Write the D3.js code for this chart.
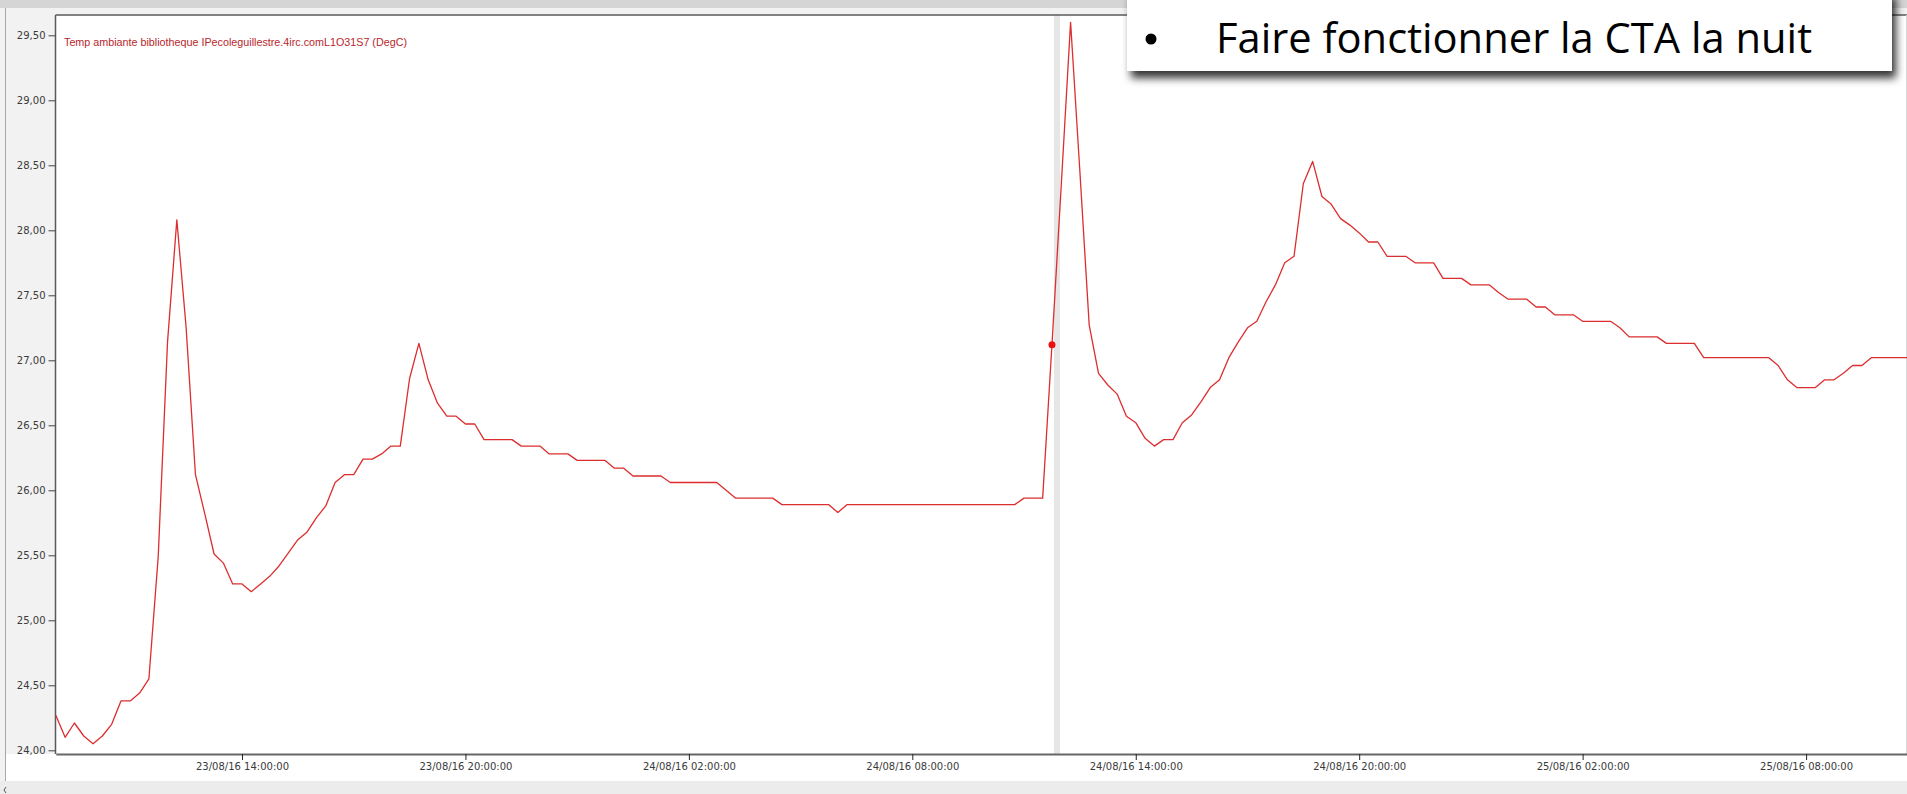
<!DOCTYPE html>
<html>
<head>
<meta charset="utf-8">
<script src="https://cdn.jsdelivr.net/npm/d3@7"></script>
<style>
  body { margin: 0; background: #fff; overflow: hidden; }
  svg { display: block; }
</style>
</head>
<body>
<svg id="chart" width="1907" height="794"></svg>
<script>
// logger samples, one every 15 minutes from 23/08/16 09:00
const startTime = new Date(2016, 7, 23, 9, 0, 0);
const stepMinutes = 15;
const tempValues = [
  24.27, 24.10, 24.21, 24.11, 24.05, 24.11, 24.20, 24.38, 24.38, 24.44,
  24.55, 25.49, 27.14, 28.08, 27.25, 26.12, 25.82, 25.51, 25.44, 25.28,
  25.28, 25.22, 25.28, 25.34, 25.42, 25.52, 25.62, 25.68, 25.79, 25.88,
  26.06, 26.12, 26.12, 26.24, 26.24, 26.28, 26.34, 26.34, 26.86, 27.13,
  26.85, 26.67, 26.57, 26.57, 26.51, 26.51, 26.39, 26.39, 26.39, 26.39,
  26.34, 26.34, 26.34, 26.28, 26.28, 26.28, 26.23, 26.23, 26.23, 26.23,
  26.17, 26.17, 26.11, 26.11, 26.11, 26.11, 26.06, 26.06, 26.06, 26.06,
  26.06, 26.06, 26.00, 25.94, 25.94, 25.94, 25.94, 25.94, 25.89, 25.89,
  25.89, 25.89, 25.89, 25.89, 25.83, 25.89, 25.89, 25.89, 25.89, 25.89,
  25.89, 25.89, 25.89, 25.89, 25.89, 25.89, 25.89, 25.89, 25.89, 25.89,
  25.89, 25.89, 25.89, 25.89, 25.94, 25.94, 25.94, 27.12, 28.35, 29.60,
  28.45, 27.27, 26.90, 26.81, 26.74, 26.57, 26.52, 26.40, 26.34, 26.39,
  26.39, 26.52, 26.58, 26.68, 26.79, 26.85, 27.02, 27.14, 27.25, 27.30,
  27.45, 27.58, 27.75, 27.80, 28.36, 28.53, 28.26, 28.20, 28.09, 28.04,
  27.98, 27.91, 27.91, 27.80, 27.80, 27.80, 27.75, 27.75, 27.75, 27.63,
  27.63, 27.63, 27.58, 27.58, 27.58, 27.52, 27.47, 27.47, 27.47, 27.41,
  27.41, 27.35, 27.35, 27.35, 27.30, 27.30, 27.30, 27.30, 27.25, 27.18,
  27.18, 27.18, 27.18, 27.13, 27.13, 27.13, 27.13, 27.02, 27.02, 27.02,
  27.02, 27.02, 27.02, 27.02, 27.02, 26.96, 26.85, 26.79, 26.79, 26.79,
  26.85, 26.85, 26.90, 26.96, 26.96, 27.02, 27.02, 27.02, 27.02, 27.02
];
const cursorIndex = 107; // highlighted sample (red dot + grey cursor band)

const yTickValues = [24.0, 24.5, 25.0, 25.5, 26.0, 26.5, 27.0, 27.5, 28.0, 28.5, 29.0, 29.5];
const xTickLabels = [
  "23/08/16 14:00:00", "23/08/16 20:00:00", "24/08/16 02:00:00", "24/08/16 08:00:00",
  "24/08/16 14:00:00", "24/08/16 20:00:00", "25/08/16 02:00:00", "25/08/16 08:00:00"
];
const seriesName = "Temp ambiante bibliotheque IPecoleguillestre.4irc.comL1O31S7 (DegC)";
const noteText = "Faire fonctionner la CTA la nuit";

const parseTick = d3.timeParse("%d/%m/%y %H:%M:%S");
const fmtTick = d3.timeFormat("%d/%m/%y %H:%M:%S");
const frLocale = d3.formatLocale({ decimal: ",", thousands: " ", grouping: [3], currency: ["", " €"] });
const fmtY = frLocale.format(".2f");

const data = tempValues.map((v, i) => ({ time: d3.timeMinute.offset(startTime, i * stepMinutes), value: v }));

const W = 1907, H = 794;
const plot = { left: 55.5, top: 15, right: 1907, bottom: 754 };

const svg = d3.select("#chart");

// shadow for the slide note box
const defs = svg.append("defs");
const shadow = defs.append("filter").attr("id", "shadow")
  .attr("x", "-5%").attr("y", "-40%").attr("width", "110%").attr("height", "200%");
shadow.append("feDropShadow")
  .attr("dx", 4).attr("dy", 7).attr("stdDeviation", 4)
  .attr("flood-color", "#000").attr("flood-opacity", 0.8);

// window chrome
svg.append("rect").attr("width", W).attr("height", H).attr("fill", "#f2f2f2");
svg.append("rect").attr("width", W).attr("height", 8).attr("fill", "#d5d5d5");
svg.append("line").attr("x1", 5.5).attr("x2", 5.5).attr("y1", 8).attr("y2", 781)
  .attr("stroke", "#a8a8a8").attr("stroke-width", 1);
svg.append("rect").attr("x", 6).attr("y", plot.bottom).attr("width", W - 6).attr("height", 27).attr("fill", "#fff");
svg.append("rect").attr("x", 0).attr("y", 781).attr("width", W).attr("height", H - 781).attr("fill", "#ececec");
svg.append("path").attr("d", "M6,787 L4,790 L6,793").attr("fill", "none").attr("stroke", "#555");

// plot background
svg.append("rect")
  .attr("x", plot.left).attr("y", plot.top)
  .attr("width", plot.right - plot.left).attr("height", plot.bottom - plot.top)
  .attr("fill", "#fff");

const x = d3.scaleTime()
  .domain([data[0].time, data[data.length - 1].time])
  .range([55.8, 55.8 + (data.length - 1) * 9.31]);

const y = d3.scaleLinear()
  .domain([24, 29.5])
  .range([750.3, 35.3]);

// cursor band
const cursor = data[cursorIndex];
svg.append("rect")
  .attr("x", x(cursor.time) + 2).attr("y", plot.top)
  .attr("width", 6).attr("height", plot.bottom - plot.top)
  .attr("fill", "#e6e6e6");

// borders
svg.append("line").attr("x1", plot.left).attr("x2", plot.right).attr("y1", plot.top).attr("y2", plot.top)
  .attr("stroke", "#5a5a5a").attr("stroke-width", 1.5);
svg.append("line").attr("x1", plot.left).attr("x2", plot.left).attr("y1", plot.top).attr("y2", plot.bottom)
  .attr("stroke", "#5a5a5a").attr("stroke-width", 1.5);
svg.append("line").attr("x1", 1906.5).attr("x2", 1906.5).attr("y1", plot.top).attr("y2", plot.bottom)
  .attr("stroke", "#d8d8d8").attr("stroke-width", 1);

// y axis
svg.append("g")
  .attr("transform", `translate(${plot.left},0)`)
  .call(d3.axisLeft(y).tickValues(yTickValues).tickFormat(fmtY).tickSize(7).tickPadding(3))
  .call(g => g.select(".domain").remove())
  .call(g => g.selectAll(".tick line").attr("stroke", "#444"))
  .call(g => g.selectAll(".tick text")
    .attr("fill", "#3a3a3a")
    .style("font-family", "'DejaVu Sans', Verdana, sans-serif")
    .style("font-size", "10px"));

// x axis
svg.append("g")
  .attr("transform", `translate(0,${plot.bottom})`)
  .call(d3.axisBottom(x).tickValues(xTickLabels.map(parseTick)).tickFormat(fmtTick).tickSize(6).tickSizeOuter(0).tickPadding(3))
  .call(g => g.select(".domain").attr("stroke", "#666").attr("stroke-width", 2))
  .call(g => g.selectAll(".tick line").attr("stroke", "#222"))
  .call(g => g.selectAll(".tick text")
    .attr("fill", "#3a3a3a")
    .style("font-family", "'DejaVu Sans', Verdana, sans-serif")
    .style("font-size", "10px"));

// temperature line
const line = d3.line()
  .x(d => x(d.time))
  .y(d => y(d.value));

svg.append("path")
  .datum(data)
  .attr("fill", "none")
  .attr("stroke", "#dc2e2e")
  .attr("stroke-width", 1.3)
  .attr("stroke-linejoin", "round")
  .attr("d", line);

svg.append("circle")
  .attr("cx", x(cursor.time)).attr("cy", y(cursor.value))
  .attr("r", 3.5).attr("fill", "#ee1111");

// series label
svg.append("text")
  .attr("x", 64).attr("y", 46)
  .attr("fill", "#b8262b")
  .attr("textLength", 343).attr("lengthAdjust", "spacingAndGlyphs")
  .style("font-family", "'Liberation Sans', Arial, sans-serif")
  .style("font-size", "10.5px")
  .text(seriesName);

// slide note box
const note = svg.append("g");
note.append("rect")
  .attr("x", 1127).attr("y", -10).attr("width", 765).attr("height", 81)
  .attr("fill", "#fff").attr("filter", "url(#shadow)");
note.append("circle").attr("cx", 1151).attr("cy", 39).attr("r", 5.5).attr("fill", "#000");
note.append("text")
  .attr("x", 1216).attr("y", 53)
  .attr("fill", "#000")
  .attr("textLength", 596).attr("lengthAdjust", "spacingAndGlyphs")
  .style("font-family", "'Open Sans', 'Noto Sans', sans-serif")
  .style("font-size", "42px")
  .text(noteText);
</script>
</body>
</html>
